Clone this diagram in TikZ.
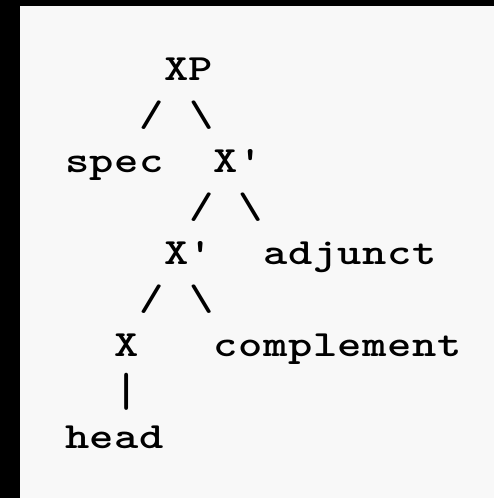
\documentclass[tikz,border=0pt]{standalone}
\usepackage{fontspec}
\usepackage{graphicx}
\newfontfamily\courfont{lmmonolt10-bold}[Extension=.otf, FakeStretch=1.25, LetterSpace=1.5]
\definecolor{bgpaper}{HTML}{F8F8F8}
\newcommand{\cw}{24.8}
\newcommand{\lh}{46}
\tikzset{
  tok/.style={anchor=base west, inner sep=0pt, outer sep=0pt,
    font=\fontsize{37}{46}\selectfont\courfont, text=black},
}
\begin{document}
\begin{tikzpicture}[x=1pt,y=1pt]
\useasboundingbox (0,0) rectangle (494,-498);
\fill[black] (0,0) rectangle (494,-498);
\fill[bgpaper] (20,-6) rectangle (494,-498);
% rows: baseline y = -(80 + 46 r); columns: x = 65 + 24.8 c
\node[tok] (XP)   at (65+4*\cw, -80-0*\lh) {XP};
\node[tok] (s1)   at (65+3*\cw, -80-1*\lh) {/};
\node[tok] (b1)   at (65+5*\cw, -80-1*\lh) {\symbol{92}};
\node[tok] (spec) at (65+0*\cw, -80-2*\lh) {spec};
\node[tok] (Xb1)  at (65+6*\cw, -80-2*\lh) {X'};
\node[tok] (s2)   at (65+5*\cw, -80-3*\lh) {/};
\node[tok] (b2)   at (65+7*\cw, -80-3*\lh) {\symbol{92}};
\node[tok] (Xb2)  at (65+4*\cw, -80-4*\lh) {X'};
\node[tok] (adj)  at (65+8*\cw, -80-4*\lh) {adjunct};
\node[tok] (s3)   at (65+3*\cw, -80-5*\lh) {/};
\node[tok] (b3)   at (65+5*\cw, -80-5*\lh) {\symbol{92}};
\node[tok] (X)    at (65+2*\cw, -80-6*\lh) {X};
\node[tok] (comp) at (65+6*\cw, -80-6*\lh) {complement};
\node[tok] (bar)  at (65+2*\cw, -84-7*\lh) {\scalebox{1}[1.3]{|}};
\node[tok] (head) at (65+0*\cw, -80-8*\lh) {head};
\end{tikzpicture}
\end{document}
